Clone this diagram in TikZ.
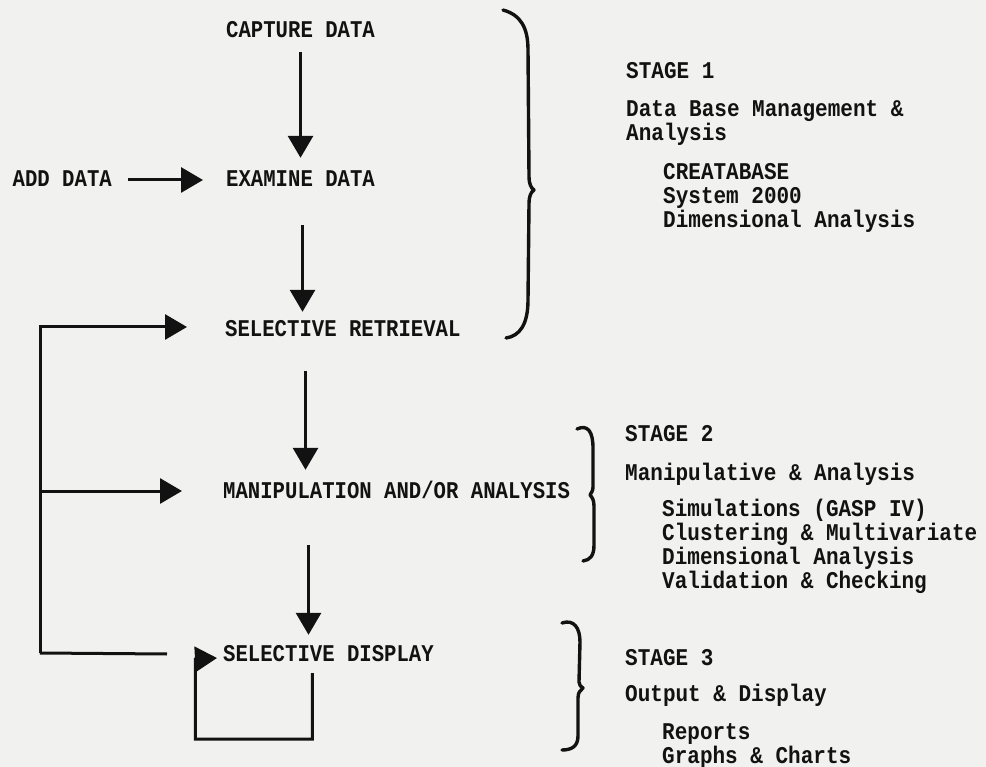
\documentclass[tikz,border=0pt]{standalone}
\usepackage{fontspec}
\usepackage{tikz}
\usetikzlibrary{arrows.meta}
\usetikzlibrary{positioning}
\newfontfamily\twl[FakeStretch=0.86]{Liberation Mono}
\newfontfamily\twr[FakeStretch=0.875]{Liberation Mono}
\definecolor{paper}{RGB}{241,241,240}
\definecolor{ink}{RGB}{18,18,18}
\newcommand{\ind}{\hspace*{37pt}}

\begin{document}
\begin{tikzpicture}[x=1pt, y=-1pt, color=ink,
	lbl/.style={font=\twl\bfseries\fontsize{24pt}{24pt}\selectfont, inner sep=0pt, text height=14pt, text depth=0pt, anchor=west},
	stage/.style={font=\twr\bfseries\fontsize{24pt}{24pt}\selectfont, inner sep=0pt, align=left, anchor=north west},
	line/.style={line width=3pt},
	flow/.style={line, -{Triangle[width=25pt,length=22pt]}},
	brc/.style={line width=3.4pt, line cap=round, line join=round}]
			\fill[paper] (0,0) rectangle (986,767);
			\useasboundingbox (0,0) rectangle (986,767);
			\node[lbl] (capture) at (226,31) {CAPTURE DATA};
			\node[lbl] (examine) at (226,180) {EXAMINE DATA};
			\node[lbl, left=114pt of examine] (add) {ADD DATA};
			\node[lbl] (retrieval) at (225,330) {SELECTIVE RETRIEVAL};
			\node[lbl] (manip) at (223,491) {MANIPULATION AND/OR ANALYSIS};
			\node[lbl] (display) at (223,654) {SELECTIVE DISPLAY};
			\coordinate (back) at (40,653);
			\draw[flow, shorten <=14pt, shorten >=15pt] (capture) -- (examine);
			\draw[flow, shorten <=16pt, shorten >=23pt] (add) -- (examine);
			\draw[flow, shorten <=38pt, shorten >=11pt] ([xshift=2pt]examine.south) -- ([xshift=2pt]examine.south |- retrieval.north);
			\draw[flow, shorten <=34pt, shorten >=14pt] ([xshift=5pt]examine.south |- retrieval.south) -- ([xshift=5pt]examine.south |- manip.north);
			\draw[flow, shorten <=47pt, shorten >=12pt] ([xshift=8pt]examine.south |- manip.south) -- ([xshift=8pt]examine.south |- display.north);
			% feedback lines
			\draw[line] ([xshift=-56pt]display.west) -- (back);
			\draw[flow] (back) |- ([xshift=-38pt,yshift=3pt]retrieval.west);
			\draw[flow] (back) |- ([xshift=-41pt]manip.west);
			\draw[flow] ([xshift=-16pt,yshift=-12pt]display.south) -- ++(0,66) -| ++(-117,-80) -- ([xshift=-6pt,yshift=-4pt]display.west);
			% braces
			\draw[brc] (503,10) .. controls (521,15) and (528,28) .. (528,50) -- (529,176) .. controls (529,184) and (531,188) .. (534,190) .. controls (531,192) and (529,196) .. (529,204) -- (528,300) .. controls (528,324) and (520,336) .. (506,338);
			\draw[brc] (577,429) .. controls (588,424) and (593,432) .. (593,448) -- (593,487) .. controls (593,491) and (591,493) .. (590,495) .. controls (592,497) and (594,500) .. (594,506) -- (594,545) .. controls (594,556) and (590,560) .. (583,561);
			\draw[brc] (562,623) .. controls (574,619) and (580,628) .. (580,642) -- (579,682) .. controls (579,685) and (581,687) .. (583,688) .. controls (580,690) and (578,693) .. (578,698) -- (578,736) .. controls (578,746) and (572,750) .. (562,750);
			% stages
			\node[stage] (stage1) at (626,62) {STAGE 1\\[14pt] Data Base Management \&\\ Analysis\\[15pt] \ind CREATABASE\\ \ind System 2000\\ \ind Dimensional Analysis};
			\node[stage] (stage2) at (625,425) {STAGE 2\\[15pt] Manipulative \& Analysis\\[12pt] \ind Simulations (GASP IV)\\ \ind Clustering \& Multivariate\\ \ind Dimensional Analysis\\ \ind Validation \& Checking};
			\node[stage] (stage3) at (625,649) {STAGE 3\\[12pt] Output \& Display\\[14pt] \ind Reports\\ \ind Graphs \& Charts};
		\end{tikzpicture}
\end{document}
